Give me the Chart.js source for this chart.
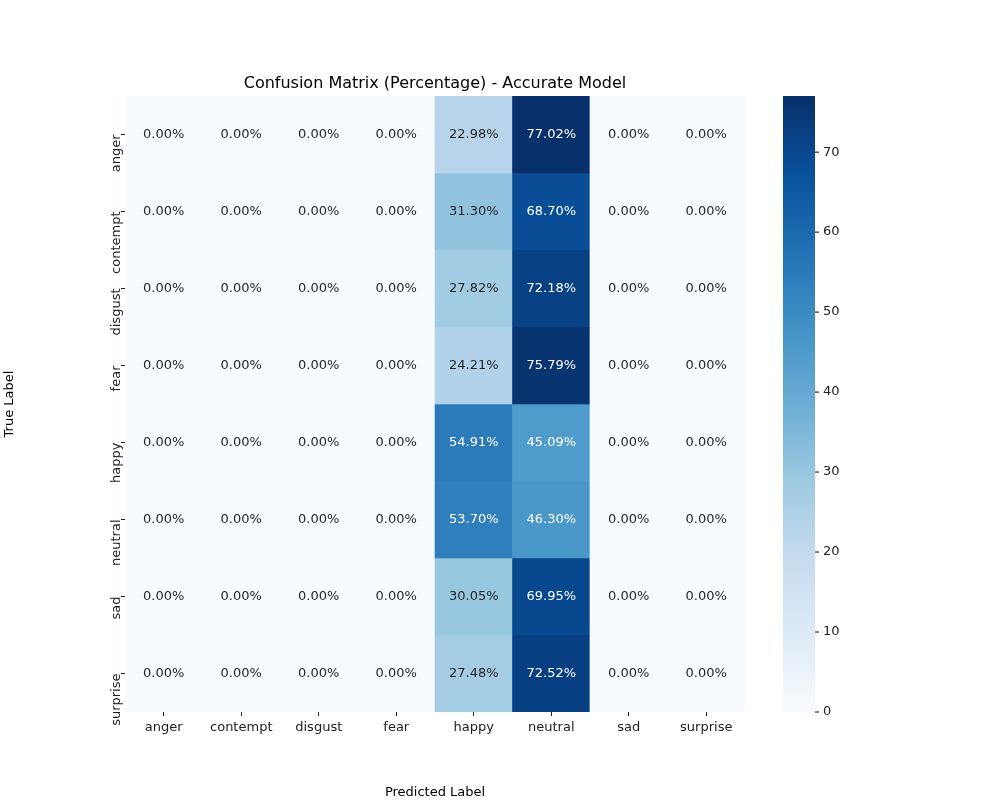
<!DOCTYPE html>
<html><head><meta charset="utf-8">
<script src="https://cdn.jsdelivr.net/npm/chart.js@4"></script>
<style>body{margin:0;background:#fff}</style>
</head><body>
<canvas id="c" width="1000" height="800"></canvas>
<script>
// confusion matrix values (%), rows = true label, cols = predicted
var classes = ["anger", "contempt", "disgust", "fear", "happy", "neutral", "sad", "surprise"];
var happyCol = [22.98, 31.30, 27.82, 24.21, 54.91, 53.70, 30.05, 27.48];
var neutralCol = [77.02, 68.70, 72.18, 75.79, 45.09, 46.30, 69.95, 72.52];
var cbarTicks = [0, 10, 20, 30, 40, 50, 60, 70];
var vmax = 77.02;

var matrix = classes.map(function (c, i) {
  return classes.map(function (p, j) {
    return j === 4 ? happyCol[i] : (j === 5 ? neutralCol[i] : 0);
  });
});

// matplotlib Blues
var stops = ["#f7fbff", "#deebf7", "#c6dbef", "#9ecae1", "#6baed6", "#4292c6", "#2171b5", "#08519c", "#08306b"];
function hex(h) { return [1, 3, 5].map(function (k) { return parseInt(h.substr(k, 2), 16); }); }
function blues(t) {
  t = Math.max(0, Math.min(1, t)) * (stops.length - 1);
  var i = Math.min(Math.floor(t), stops.length - 2), f = t - i;
  var a = hex(stops[i]), b = hex(stops[i + 1]);
  return "rgb(" + a.map(function (v, k) { return Math.round(v + (b[k] - v) * f); }).join(",") + ")";
}

var font = { family: "DejaVu Sans", size: 13 };
var datasets = classes.map(function (c, i) {
  return {
    data: matrix[i].map(function () { return [i, i + 1]; }),
    backgroundColor: matrix[i].map(function (v) { return blues(v / vmax); }),
    borderWidth: 0, barPercentage: 1, categoryPercentage: 1, grouped: false
  };
});

var extras = {
  id: "extras",
  afterDatasetsDraw: function (chart) {
    var ctx = chart.ctx, a = chart.chartArea;
    ctx.save();
    ctx.font = "13px 'DejaVu Sans'";
    ctx.textAlign = "center"; ctx.textBaseline = "middle";
    chart.data.datasets.forEach(function (ds, i) {
      chart.getDatasetMeta(i).data.forEach(function (bar, j) {
        var v = matrix[i][j];
        ctx.fillStyle = v > 40 ? "#ffffff" : "#262626";
        ctx.fillText(v.toFixed(2) + "%", bar.x, (bar.y + bar.base) / 2);
      });
    });
    // title
    ctx.fillStyle = "#000";
    ctx.font = "16px 'DejaVu Sans'";
    ctx.textBaseline = "alphabetic";
    ctx.fillText("Confusion Matrix (Percentage) - Accurate Model", (a.left + a.right) / 2, 88);
    // colorbar
    var x0 = 783, w = 32, top = a.top, bot = a.bottom, h = bot - top;
    for (var y = 0; y < h; y++) {
      ctx.fillStyle = blues(1 - y / h);
      ctx.fillRect(x0, top + y, w, 1.5);
    }
    ctx.strokeStyle = "#000"; ctx.lineWidth = 1;
    ctx.font = "13px 'DejaVu Sans'";
    ctx.textAlign = "left"; ctx.textBaseline = "middle";
    ctx.fillStyle = "#222";
    cbarTicks.forEach(function (t) {
      var yy = bot - t / vmax * h;
      ctx.beginPath(); ctx.moveTo(x0 + w, yy); ctx.lineTo(x0 + w + 4, yy); ctx.stroke();
      ctx.fillText(String(t), x0 + w + 8, yy);
    });
    ctx.restore();
  }
};

new Chart(document.getElementById("c"), {
  type: "bar",
  data: { labels: classes, datasets: datasets },
  plugins: [extras],
  options: {
    responsive: false, animation: false,
    layout: { padding: { top: 96, right: 255, left: 0, bottom: 0 } },
    plugins: { legend: { display: false }, tooltip: { enabled: false } },
    scales: {
      x: {
        grid: { display: true, drawOnChartArea: false, offset: false, tickLength: 4, color: "#222" },
        border: { display: false },
        ticks: { font: font, color: "#222", padding: 4 },
        title: { display: true, text: "Predicted Label", font: font, color: "#000", padding: 0 },
        afterFit: function (s) { s.height = 88; }
      },
      y: {
        type: "linear", min: 0, max: 8, reverse: true,
        afterBuildTicks: function (s) { s.ticks = classes.map(function (c, i) { return { value: i + 0.5 }; }); },
        grid: { display: true, drawOnChartArea: false, tickLength: 4, color: "#222" },
        border: { display: false },
        ticks: { font: font, color: "#222", minRotation: 90, maxRotation: 90, padding: 4,
          callback: function (v) { return classes[Math.floor(v)]; } },
        title: { display: true, text: "True Label", font: font, color: "#000", padding: 2 },
        afterFit: function (s) { s.width = 125; }
      }
    }
  }
});
</script>
</body></html>
